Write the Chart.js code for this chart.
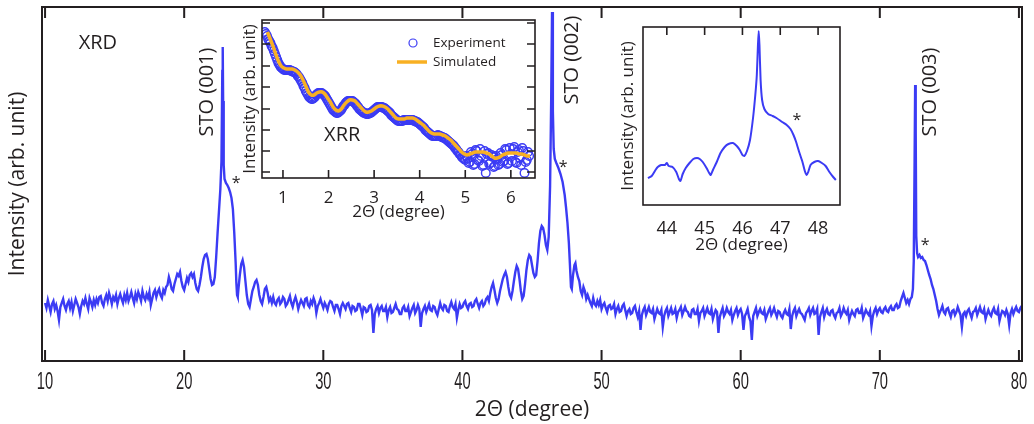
<!DOCTYPE html>
<html>
<head>
<meta charset="utf-8">
<script src="https://cdn.jsdelivr.net/npm/chart.js@4.4.1/dist/chart.umd.min.js"></script>
<style>
  body { margin: 0; background: #fff; }
  #wrap { position: relative; width: 1034px; height: 424px; overflow: hidden; }
  canvas { position: absolute; }
</style>
</head>
<body>
<div id="wrap">
  <canvas id="xrd" width="1034" height="424" style="left:0;top:0"></canvas>
  <canvas id="xrr" width="312" height="210" style="left:230px;top:14px"></canvas>
  <canvas id="zoom" width="230" height="240" style="left:615px;top:22px"></canvas>
</div>
<script>
// ---- main XRD scan (2theta in degree, intensity in arb. unit) ----
const xrdAngle = [
  10.0,10.1,10.2,10.3,10.4,10.5,10.6,10.7,10.8,10.9,
  11.0,11.1,11.2,11.3,11.4,11.5,11.6,11.7,11.8,11.9,
  12.0,12.1,12.2,12.3,12.4,12.5,12.6,12.7,12.8,12.9,
  13.0,13.1,13.2,13.3,13.4,13.5,13.6,13.7,13.8,13.9,
  14.0,14.1,14.2,14.3,14.4,14.5,14.6,14.7,14.8,14.9,
  15.0,15.1,15.2,15.3,15.4,15.5,15.6,15.7,15.8,15.9,
  16.0,16.1,16.2,16.3,16.4,16.5,16.6,16.7,16.8,16.9,
  17.0,17.1,17.2,17.3,17.4,17.5,17.6,17.7,17.8,17.9,
  18.0,18.1,18.2,18.3,18.4,18.5,18.6,18.7,
  18.8,18.9,19.0,19.1,19.2,19.3,19.4,19.5,19.6,19.7,
  19.8,19.9,20.0,20.1,20.2,20.3,20.4,20.5,20.6,20.7,
  20.8,20.9,21.0,21.1,21.2,21.3,21.4,21.5,21.6,21.7,
  21.8,21.9,22.0,22.1,22.2,22.3,22.4,22.5,22.6,22.68,
  22.74,22.77,22.8,22.84,22.9,23.0,23.1,23.2,23.3,23.4,
  23.5,23.6,23.7,23.75,23.8,23.85,23.9,24.0,24.1,24.2,
  24.3,24.4,24.5,24.6,24.7,24.8,24.9,25.0,25.1,25.2,
  25.3,25.4,25.5,25.6,25.7,25.8,25.9,26.0,26.1,26.2,26.3,
  26.4,26.5,26.6,26.7,26.8,26.9,
  27.0,27.1,27.2,27.3,27.4,27.5,27.6,27.7,27.8,27.9,
  28.0,28.1,28.2,28.3,28.4,28.5,28.6,28.7,28.8,28.9,
  29.0,29.1,29.2,29.3,29.4,29.5,29.6,29.7,29.8,29.9,
  30.0,30.1,30.2,30.3,30.4,30.5,30.6,30.7,30.8,30.9,
  31.0,31.1,31.2,31.3,31.4,31.5,31.6,31.7,31.8,31.9,
  32.0,32.1,32.2,32.3,32.4,32.5,32.6,32.7,32.8,32.9,
  33.0,33.1,33.2,33.3,33.4,33.5,33.6,33.7,33.8,33.9,
  34.0,34.1,34.2,34.3,34.4,34.5,34.6,34.7,34.8,34.9,
  35.0,35.1,35.2,35.3,35.4,35.5,35.6,35.7,35.8,35.9,
  36.0,36.1,36.2,36.3,36.4,36.5,36.6,36.7,36.8,36.9,
  37.0,37.1,37.2,37.3,37.4,37.5,37.6,37.7,37.8,37.9,
  38.0,38.1,38.2,38.3,38.4,38.5,38.6,38.7,38.8,38.9,
  39.0,39.1,39.2,39.3,39.4,39.5,39.6,39.7,39.8,39.9,
  40.0,40.1,40.2,40.3,40.4,40.5,40.6,40.7,40.8,40.9,
  41.0,41.1,41.2,41.3,41.4,41.5,41.6,41.7,41.8,
  41.9,42.0,42.1,42.2,42.3,42.4,42.5,42.6,42.7,42.8,
  42.9,43.0,43.1,43.2,43.3,43.4,43.5,43.6,43.7,43.8,
  43.9,44.0,44.1,44.2,44.3,44.4,44.5,44.6,44.7,44.8,
  44.9,45.0,45.1,45.2,45.3,45.4,45.5,45.6,45.7,45.8,
  45.9,46.0,46.1,46.2,46.3,46.38,46.44,46.5,46.56,46.64,
  46.75,46.9,47.05,47.2,47.35,47.45,47.55,47.65,47.72,47.8,
  47.86,47.95,48.05,48.12,48.2,48.3,48.4,48.5,48.6,48.7,
  48.8,48.9,49.0,
  49.1,49.2,49.3,49.4,49.5,49.6,49.7,49.8,49.9,
  50.0,50.1,50.2,50.3,50.4,50.5,50.6,50.7,50.8,50.9,
  51.0,51.1,51.2,51.3,51.4,51.5,51.6,51.7,51.8,51.9,
  52.0,52.1,52.2,52.3,52.4,52.5,52.6,52.7,52.8,52.9,
  53.0,53.1,53.2,53.3,53.4,53.5,53.6,53.7,53.8,53.9,
  54.0,54.1,54.2,54.3,54.4,54.5,54.6,54.7,54.8,54.9,
  55.0,55.1,55.2,55.3,55.4,55.5,55.6,55.7,55.8,55.9,
  56.0,56.1,56.2,56.3,56.4,56.5,56.6,56.7,56.8,56.9,
  57.0,57.1,57.2,57.3,57.4,57.5,57.6,57.7,57.8,57.9,
  58.0,58.1,58.2,58.3,58.4,58.5,58.6,58.7,58.8,58.9,
  59.0,59.1,59.2,59.3,59.4,59.5,59.6,59.7,59.8,59.9,
  60.0,60.1,60.2,60.3,60.4,60.5,60.6,60.7,60.8,60.9,
  61.0,61.1,61.2,61.3,61.4,61.5,61.6,61.7,61.8,61.9,
  62.0,62.1,62.2,62.3,62.4,62.5,62.6,62.7,62.8,62.9,
  63.0,63.1,63.2,63.3,63.4,63.5,63.6,63.7,63.8,63.9,
  64.0,64.1,64.2,64.3,64.4,64.5,64.6,64.7,64.8,64.9,
  65.0,65.1,65.2,65.3,65.4,65.5,65.6,65.7,65.8,65.9,
  66.0,66.1,66.2,66.3,66.4,66.5,66.6,66.7,66.8,66.9,
  67.0,67.1,67.2,67.3,67.4,67.5,67.6,67.7,67.8,67.9,
  68.0,68.1,68.2,68.3,68.4,68.5,68.6,68.7,68.8,68.9,
  69.0,69.1,69.2,69.3,69.4,69.5,69.6,69.7,69.8,69.9,
  70.0,70.1,70.2,70.3,70.4,70.5,70.6,70.7,70.8,70.9,
  71.0,71.1,71.2,71.3,71.4,
  71.5,71.6,71.7,71.8,71.9,72.0,72.1,72.2,72.3,72.38,
  72.44,72.5,72.54,72.58,72.62,72.68,72.75,72.85,72.95,73.05,
  73.15,73.25,73.35,73.45,73.55,73.65,73.75,73.85,73.95,74.05,
  74.15,74.25,74.35,
  74.4,74.5,74.6,74.7,74.8,74.9,
  75.0,75.1,75.2,75.3,75.4,75.5,75.6,75.7,75.8,75.9,
  76.0,76.1,76.2,76.3,76.4,76.5,76.6,76.7,76.8,76.9,
  77.0,77.1,77.2,77.3,77.4,77.5,77.6,77.7,77.8,77.9,
  78.0,78.1,78.2,78.3,78.4,78.5,78.6,78.7,78.8,78.9,
  79.0,79.1,79.2,79.3,79.4,79.5,79.6,79.7,79.8,79.9,
  80.0,80.1,80.2
];
const xrdIntensity = [
  58,53,61,55,49,57,60,52,56,50,
  41,54,58,62,55,51,57,60,53,59,
  50,56,62,58,54,47,55,60,57,63,
  57,52,63,59,54,61,56,62,58,64,
  65,58,55,62,66,60,68,63,57,64,
  61,66,57,63,67,62,58,66,61,68,
  60,64,69,63,58,67,62,69,65,60,
  70,64,61,67,63,69,56,62,68,71,
  64,69,72,66,63,71,68,74,
  76,84,79,72,70,77,82,87,85,89,
  80,74,71,77,83,79,86,88,84,87,
  78,72,70,76,84,94,102,106,107,102,
  92,82,76,77,84,104,128,150,172,200,
  290,314,260,196,182,178,176,173,169,163,
  152,128,98,78,66,64,72,86,97,101,
  94,80,66,57,54,62,70,74,79,81,
  76,66,60,57,64,72,74,68,60,63,58,
  64,58,56,61,63,57,
  59,64,62,55,57,61,65,58,54,60,
  64,59,52,57,61,58,55,62,63,56,
  54,60,57,63,59,48,55,58,62,57,
  53,58,55,51,57,60,59,54,50,56,
  56,52,47,55,58,55,52,57,58,53,
  49,55,54,50,51,57,57,52,46,54,
  53,49,50,55,56,51,28,47,52,55,
  48,53,55,50,50,54,44,51,54,48,
  49,53,57,52,51,47,47,53,55,50,
  50,54,45,49,53,56,48,51,56,52,
  34,48,52,55,49,53,57,51,50,55,
  54,49,46,52,58,53,51,56,55,50,
  49,55,59,54,52,57,43,51,57,53,
  54,58,60,55,52,57,58,54,55,60,
  62,57,53,58,60,55,57,62,64,
  60,68,74,78,71,63,58,62,70,76,
  82,86,89,84,74,66,63,70,80,89,
  95,92,82,70,62,65,77,91,101,106,
  104,96,88,84,86,100,118,130,135,133,
  126,116,111,124,175,262,349,250,212,202,
  198,193,187,179,166,153,138,118,98,74,
  72,86,96,98,90,84,80,70,66,74,
  70,62,66,
  62,58,55,63,57,55,60,56,61,
  52,56,58,53,49,55,56,52,53,57,
  47,52,55,49,50,55,57,51,45,50,
  52,47,48,53,55,49,44,50,31,46,
  51,54,46,50,54,49,48,52,42,47,
  52,48,47,51,34,45,50,53,45,49,
  53,47,48,52,43,49,51,54,46,50,
  54,50,49,45,44,51,52,47,47,52,
  40,48,50,53,45,49,53,48,47,52,
  42,47,51,49,28,44,49,53,45,48,
  53,49,47,51,41,46,50,53,46,50,
  52,47,31,45,48,52,44,40,21,45,
  49,53,45,49,52,48,47,51,42,46,
  50,53,46,49,53,48,44,50,49,45,
  43,48,51,47,46,52,32,45,50,53,
  45,49,52,48,47,44,41,48,50,53,
  46,50,53,47,48,52,26,44,49,53,
  44,49,52,47,46,50,51,46,43,48,
  49,53,45,48,53,49,47,51,41,46,
  50,47,45,51,52,48,48,53,43,47,
  51,48,46,50,35,45,50,53,47,51,
  53,49,48,52,54,50,49,53,55,51,
  51,55,57,53,54,
  60,64,68,63,58,61,57,62,64,72,
  100,200,276,230,125,108,104,106,103,104,
  101,100,96,91,86,82,76,72,66,60,
  52,46,50,
  51,55,49,47,52,53,
  48,44,50,51,46,49,54,50,46,34,
  47,49,45,50,52,47,43,49,50,53,
  46,50,54,49,48,52,42,47,51,47,
  45,50,53,48,47,52,40,46,50,49,
  46,51,47,36,48,52,47,51,54,50,
  49,53,55
];
const xrdTicks = [10, 20, 30, 40, 50, 60, 70, 80];

// ---- XRR inset ----
const xrrExpAngle = [
  0.600,0.625,0.650,0.675,0.700,0.725,0.750,0.775,0.800,0.825,
  0.850,0.875,0.900,0.925,0.950,0.975,
  1.000,1.025,1.050,1.075,1.100,1.125,1.150,1.175,1.200,1.225,
  1.250,1.275,1.300,1.325,1.350,1.375,1.400,1.425,1.450,1.475,
  1.500,1.525,1.550,1.575,1.600,1.625,1.650,1.675,1.700,1.725,
  1.750,1.775,1.800,1.825,1.850,1.875,1.900,1.925,1.950,1.975,
  2.000,2.025,2.050,2.075,2.100,2.125,2.150,2.175,2.200,2.225,
  2.250,2.275,2.300,2.325,2.350,2.375,2.400,2.425,2.450,2.475,
  2.500,2.525,2.550,2.575,2.600,2.625,2.650,2.675,2.700,2.725,
  2.750,2.775,2.800,2.825,2.850,2.875,2.900,2.925,2.950,2.975,
  3.000,3.025,3.050,3.075,3.100,3.125,3.150,3.175,3.200,3.225,
  3.250,3.275,3.300,3.325,3.350,3.375,3.400,3.425,3.450,3.475,
  3.500,3.525,3.550,3.575,3.600,3.625,3.650,3.675,3.700,3.725,
  3.750,3.775,3.800,3.825,3.850,3.875,3.900,3.925,3.950,3.975,
  4.000,4.025,4.050,4.075,4.100,4.125,4.150,4.175,4.200,4.225,
  4.250,4.275,4.300,4.325,4.350,4.375,4.400,4.425,4.450,4.475,
  4.500,4.525,4.550,4.575,4.600,4.625,4.650,4.675,4.700,4.725,
  4.750,4.775,4.800,4.825,4.850,4.875,4.900,4.925,4.950,4.975,
  5.000,5.025,5.050,5.075,5.100,5.125,5.150,5.175,5.200,5.225,
  5.250,5.275,5.300,5.325,5.350,5.375,5.400,5.425,5.450,5.475,
  5.500,5.525,5.550,5.575,5.600,5.625,5.650,5.675,5.700,5.725,
  5.750,5.775,5.800,5.825,5.850,5.875,5.900,5.925,5.950,5.975,
  6.000,6.025,6.050,6.075,6.100,6.125,6.150,6.175,6.200,6.225,
  6.250,6.275,6.300,6.325,6.350,6.375,6.400
];
const xrrExpIntensity = [
  146,144,142,139,137,135,132,130,127,124,
  121,118,115,113,111,110,
  109,108,108,108,108,108,108,107,107,106,
  106,105,104,102,101,99,97,95,92,90,
  87,85,83,81,80,79,79,80,81,83,
  84,85,85,85,85,84,83,82,80,78,
  76,74,72,70,68,67,66,65,65,66,
  67,68,70,72,73,75,76,77,77,77,
  77,77,76,75,74,72,71,69,68,67,
  66,65,65,64,64,64,65,65,66,67,
  68,69,70,71,71,71,71,71,70,70,
  69,68,67,66,65,63,62,61,60,59,
  58,57,57,57,57,57,58,58,58,58,
  58,58,58,58,58,57,57,56,56,55,
  54,53,52,51,50,48,47,46,45,44,
  43,42,42,42,42,42,43,42,42,41,
  41,40,40,39,38,37,36,35,34,33,
  32,30,29,27,26,24,23,21,20,19,
  18,22,20,15,16,26,24,13,14,28,
  27,18,17,29,22,12,13,27,5,24,
  25,14,15,23,21,11,12,22,19,13,
  14,25,23,16,17,29,28,14,15,30,
  24,17,29,31,16,15,26,28,20,13,
  30,27,5,16,18,26,22
];
const xrrSimAngle = [
  0.66,0.72,0.78,0.84,0.90,0.96,1.02,1.08,1.14,1.20,
  1.26,1.32,1.38,1.44,1.50,1.56,1.62,1.68,1.74,1.80,
  1.86,1.92,1.98,2.04,2.10,2.16,2.22,2.28,2.34,2.40,
  2.46,2.52,2.58,2.64,2.70,2.76,2.82,2.88,2.94,3.00,
  3.06,3.12,3.18,3.24,3.30,3.36,3.42,3.48,3.54,3.60,
  3.66,3.72,3.78,3.84,3.90,3.96,4.02,4.08,4.14,4.20,
  4.26,4.32,4.38,4.44,4.50,4.56,4.62,4.68,4.74,4.80,
  4.86,4.92,4.98,5.04,5.10,5.16,5.22,5.28,5.34,5.40,
  5.46,5.52,5.58,5.64,5.70,5.76,5.82,5.88,5.94,6.00,
  6.06,6.12,6.18,6.24,6.30,6.36,6.42
];
const xrrSimIntensity = [
  146,139,132,124,117,112,110,109,109,109,
  108,106,103,98,92,86,83,83,85,86,
  86,84,80,76,71,68,67,69,73,76,
  78,78,77,74,71,68,66,66,67,69,
  71,72,72,71,69,66,63,60,59,59,
  59,60,60,60,59,57,55,53,50,47,
  45,44,44,44,43,42,40,38,35,32,
  29,26,24,23,24,25,26,26,26,26,
  25,24,22,20,20,21,23,24,25,25,
  25,25,24,24,23,22,22
];
const xrrTicks = [1, 2, 3, 4, 5, 6];
const xrrLevelTicks = [6, 27, 48, 69, 91, 112, 134, 155];

// ---- (002) close-up inset ----
const zoomAngle = [
  43.50,43.60,43.70,43.76,43.85,43.95,44.00,44.05,44.15,44.25,
  44.32,44.36,44.42,44.50,44.60,44.70,44.80,44.87,44.95,45.05,
  45.12,45.16,45.22,45.32,45.42,45.53,45.63,45.75,45.85,45.93,
  46.00,46.05,46.12,46.20,46.28,46.34,46.38,46.41,46.43,46.45,
  46.48,46.52,46.58,46.68,46.80,46.90,47.05,47.17,47.27,47.35,
  47.42,47.50,47.58,47.65,47.70,47.74,47.80,47.90,48.00,48.10,
  48.20,48.30,48.40,48.47
];
const zoomIntensity = [
  27,29,35,38,40,40,42,39,38,33,
  26,24,31,37,42,46,47,46,43,37,
  32,30,35,43,52,58,61,62,59,55,
  50,49,54,65,87,110,130,160,174,160,
  125,105,96,91,89,87,83,80,76,70,
  63,53,44,34,30,33,40,43,44,42,
  39,33,28,25
];
const zoomTicks = [44, 45, 46, 47, 48];

const BLUE = '#3b3bf4';
const ORANGE = '#f8b023';
const INK = '#231f20';
const SANS = '"Open Sans", "Noto Sans", sans-serif';

function pts(xs, ys) {
  return xs.map((x, i) => ({ x: x, y: ys[i] }));
}

// box around the plot area with inward tick marks (and condensed tick labels for the main axis)
function frame(cfg) {
  return {
    id: 'frame',
    afterDraw(chart) {
      const { ctx, chartArea: a, scales } = chart;
      ctx.save();
      ctx.strokeStyle = INK;
      ctx.lineWidth = cfg.width;
      ctx.strokeRect(a.left, a.top, a.right - a.left, a.bottom - a.top);
      ctx.beginPath();
      (cfg.x || []).forEach(v => {
        const px = scales.x.getPixelForValue(v);
        if (cfg.xSides.includes('bottom')) { ctx.moveTo(px, a.bottom); ctx.lineTo(px, a.bottom - cfg.len); }
        if (cfg.xSides.includes('top')) { ctx.moveTo(px, a.top); ctx.lineTo(px, a.top + cfg.len); }
      });
      (cfg.y || []).forEach(v => {
        const py = scales.y.getPixelForValue(v);
        ctx.moveTo(a.left, py); ctx.lineTo(a.left + cfg.len, py);
        ctx.moveTo(a.right, py); ctx.lineTo(a.right - cfg.len, py);
      });
      ctx.stroke();
      if (cfg.labels) {
        ctx.fillStyle = INK;
        ctx.font = cfg.labels.size + 'px "Liberation Sans", Arial, sans-serif';
        ctx.textAlign = 'center';
        ctx.textBaseline = 'alphabetic';
        cfg.x.forEach(v => {
          ctx.save();
          ctx.translate(scales.x.getPixelForValue(v), a.bottom + cfg.labels.offset);
          ctx.scale(cfg.labels.squeeze, 1);
          ctx.fillText(String(v), 0, 0);
          ctx.restore();
        });
      }
      ctx.restore();
    }
  };
}

// text notes placed in data coordinates
function notes(list) {
  return {
    id: 'notes',
    afterDatasetsDraw(chart) {
      const { ctx, scales } = chart;
      list.forEach(n => {
        ctx.save();
        ctx.translate(scales.x.getPixelForValue(n.x), scales.y.getPixelForValue(n.y));
        ctx.rotate(n.rot || 0);
        ctx.font = n.size + 'px ' + SANS;
        ctx.fillStyle = INK;
        ctx.textAlign = 'center';
        ctx.textBaseline = 'middle';
        ctx.fillText(n.text, 0, 0);
        ctx.restore();
      });
    }
  };
}

const xrdNotes = [
  { text: 'XRD', x: 13.8, y: 318, size: 20 },
  { text: 'STO (001)', x: 21.65, y: 269, size: 20, rot: -Math.PI / 2 },
  { text: '*', x: 23.73, y: 178, size: 16 },
  { text: 'STO (002)', x: 47.89, y: 301, size: 20, rot: -Math.PI / 2 },
  { text: '*', x: 47.24, y: 194, size: 16 },
  { text: 'STO (003)', x: 73.62, y: 269, size: 20, rot: -Math.PI / 2 },
  { text: '*', x: 73.26, y: 116, size: 16 }
];
const xrrNotes = [{ text: 'XRR', x: 2.3, y: 43, size: 20 }];
const zoomNotes = [{ text: '*', x: 47.44, y: 85, size: 16 }];

const xrrLegend = {
  id: 'xrrLegend',
  afterDraw(chart) {
    const { ctx, chartArea: a } = chart;
    ctx.save();
    ctx.strokeStyle = BLUE;
    ctx.lineWidth = 1.2;
    ctx.beginPath();
    ctx.arc(a.right - 122, a.top + 23, 4, 0, Math.PI * 2);
    ctx.stroke();
    ctx.strokeStyle = ORANGE;
    ctx.lineWidth = 3.5;
    ctx.beginPath();
    ctx.moveTo(a.right - 138, a.top + 42);
    ctx.lineTo(a.right - 108, a.top + 42);
    ctx.stroke();
    ctx.fillStyle = INK;
    ctx.font = '13.5px ' + SANS;
    ctx.textBaseline = 'middle';
    ctx.fillText('Experiment', a.right - 102, a.top + 23);
    ctx.fillText('Simulated', a.right - 102, a.top + 42);
    ctx.restore();
  }
};

function fixedTicks(list) {
  return s => { s.ticks = list.map(v => ({ value: v })); };
}

const noPlugins = { legend: { display: false }, tooltip: { enabled: false } };

new Chart(document.getElementById('xrd'), {
  type: 'line',
  data: {
    datasets: [{
      data: pts(xrdAngle, xrdIntensity),
      borderColor: BLUE, borderWidth: 2.4, pointRadius: 0, tension: 0, fill: false
    }]
  },
  options: {
    responsive: false, animation: false,
    layout: { padding: { left: 0, right: 12, top: 7, bottom: 0 } },
    plugins: noPlugins,
    scales: {
      x: {
        type: 'linear', min: 9.78, max: 80.22,
        grid: { display: false }, border: { display: false },
        afterBuildTicks: fixedTicks(xrdTicks),
        ticks: { display: false },
        title: { display: true, text: '2\u0398 (degree)', color: INK, font: { family: SANS, size: 21 }, padding: { top: 0, bottom: 1 } },
        afterFit: s => { s.height = 63; }
      },
      y: {
        min: 0, max: 354,
        grid: { display: false }, border: { display: false },
        ticks: { display: false },
        title: { display: true, text: 'Intensity (arb. unit)', color: INK, font: { family: SANS, size: 21 }, padding: { top: 5, bottom: 0 } },
        afterFit: s => { s.width = 42; }
      }
    }
  },
  plugins: [
    frame({ width: 2, len: 11, x: xrdTicks, xSides: ['bottom', 'top'], labels: { size: 23, squeeze: 0.64, offset: 28 } }),
    notes(xrdNotes)
  ]
});

new Chart(document.getElementById('xrr'), {
  type: 'line',
  data: {
    datasets: [
      { label: 'Simulated', data: pts(xrrSimAngle, xrrSimIntensity), borderColor: ORANGE, borderWidth: 3.5, pointRadius: 0, tension: 0.3, fill: false },
      { label: 'Experiment', data: pts(xrrExpAngle, xrrExpIntensity), showLine: false, pointRadius: 4.3, pointBorderWidth: 1.4, pointBorderColor: BLUE, pointBackgroundColor: 'rgba(0,0,0,0)' }
    ]
  },
  options: {
    responsive: false, animation: false,
    layout: { padding: { left: 0, right: 7, top: 6, bottom: 0 } },
    plugins: noPlugins,
    scales: {
      x: {
        type: 'linear', min: 0.54, max: 6.53,
        grid: { display: false }, border: { display: false },
        afterBuildTicks: fixedTicks(xrrTicks),
        ticks: { font: { family: SANS, size: 17 }, color: INK, padding: 2, maxRotation: 0, autoSkip: false },
        title: { display: true, text: '2\u0398 (degree)', color: INK, font: { family: SANS, size: 17 }, padding: { top: 0, bottom: 2 } },
        afterFit: s => { s.height = 46; }
      },
      y: {
        min: 0, max: 158,
        grid: { display: false }, border: { display: false },
        ticks: { display: false },
        title: { display: true, text: 'Intensity (arb. unit)', color: INK, font: { family: SANS, size: 17 }, padding: { top: 10, bottom: 0 } },
        afterFit: s => { s.width = 32; }
      }
    }
  },
  plugins: [frame({ width: 1.6, len: 8, x: xrrTicks, xSides: ['bottom'], y: xrrLevelTicks }), notes(xrrNotes), xrrLegend]
});

new Chart(document.getElementById('zoom'), {
  type: 'line',
  data: {
    datasets: [{
      data: pts(zoomAngle, zoomIntensity),
      borderColor: BLUE, borderWidth: 2, pointRadius: 0, tension: 0.2, fill: false
    }]
  },
  options: {
    responsive: false, animation: false,
    layout: { padding: { left: 0, right: 5, top: 5, bottom: 0 } },
    plugins: noPlugins,
    scales: {
      x: {
        type: 'linear', min: 43.37, max: 48.58,
        grid: { display: false }, border: { display: false },
        afterBuildTicks: fixedTicks(zoomTicks),
        ticks: { font: { family: SANS, size: 18 }, color: INK, padding: 5, maxRotation: 0, autoSkip: false },
        title: { display: true, text: '2\u0398 (degree)', color: INK, font: { family: SANS, size: 17 }, padding: { top: 0, bottom: 7 } },
        afterFit: s => { s.height = 57; }
      },
      y: {
        min: 0, max: 178,
        grid: { display: false }, border: { display: false },
        ticks: { display: false },
        title: { display: true, text: 'Intensity (arb. unit)', color: INK, font: { family: SANS, size: 17 }, padding: { top: 3, bottom: 0 } },
        afterFit: s => { s.width = 28; }
      }
    }
  },
  plugins: [frame({ width: 1.6, len: 8, x: zoomTicks, xSides: ['top'] }), notes(zoomNotes)]
});
</script>
</body>
</html>
